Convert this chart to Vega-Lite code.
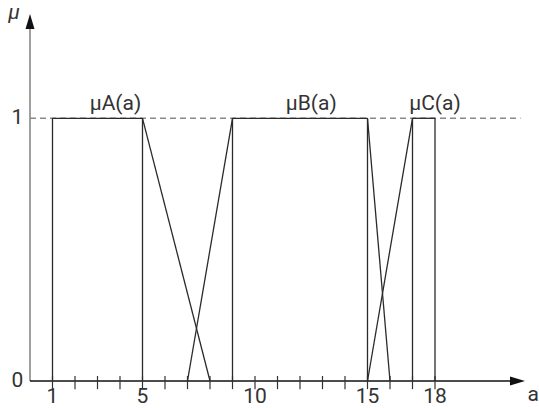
{
  "$schema": "https://vega.github.io/schema/vega-lite/v6.json",
  "width": 539,
  "height": 408,
  "autosize": "none",
  "padding": 0,
  "background": "white",
  "config": {"view": {"stroke": null}, "text": {"font": "Roboto"}},
  "datasets": {
    "segments": [
      {"curve": "A", "x": 1, "y": 0, "x2": 1, "y2": 1},
      {"curve": "A", "x": 1, "y": 1, "x2": 5, "y2": 1},
      {"curve": "A", "x": 5, "y": 1, "x2": 8, "y2": 0},
      {"curve": "A", "x": 5, "y": 0, "x2": 5, "y2": 1},
      {"curve": "B", "x": 7, "y": 0, "x2": 9, "y2": 1},
      {"curve": "B", "x": 9, "y": 1, "x2": 15, "y2": 1},
      {"curve": "B", "x": 9, "y": 0, "x2": 9, "y2": 1},
      {"curve": "B", "x": 15, "y": 0, "x2": 15, "y2": 1},
      {"curve": "B", "x": 15, "y": 1, "x2": 16, "y2": 0},
      {"curve": "C", "x": 15, "y": 0, "x2": 17, "y2": 1},
      {"curve": "C", "x": 17, "y": 1, "x2": 18, "y2": 1},
      {"curve": "C", "x": 17, "y": 0, "x2": 17, "y2": 1},
      {"curve": "C", "x": 18, "y": 0, "x2": 18, "y2": 1}
    ],
    "ticks": [
      {"x": 1}, {"x": 2}, {"x": 3}, {"x": 4}, {"x": 5}, {"x": 6}, {"x": 7}, {"x": 8}, {"x": 9},
      {"x": 10}, {"x": 11}, {"x": 12}, {"x": 13}, {"x": 14}, {"x": 15}, {"x": 16}, {"x": 17}, {"x": 18}
    ],
    "tickLabels": [
      {"x": 1, "label": "1"}, {"x": 5, "label": "5"}, {"x": 10, "label": "10"},
      {"x": 15, "label": "15"}, {"x": 18, "label": "18"}
    ],
    "yLabels": [
      {"y": 0, "label": "0"}, {"y": 1, "label": "1"}
    ],
    "curveLabels": [
      {"x": 3.8, "y": 1.03, "label": "μA(a)"},
      {"x": 12.5, "y": 1.03, "label": "μB(a)"},
      {"x": 18.0, "y": 1.03, "label": "μC(a)"}
    ]
  },
  "layer": [
    {
      "data": {"values": [{"x": 0, "x2": 21.8, "y": 1}]},
      "mark": {"type": "rule", "color": "#888888", "strokeWidth": 1.5, "strokeDash": [6, 4]},
      "encoding": {
        "x": {"field": "x", "type": "quantitative", "scale": {"domain": [-1.3333, 22.6222], "nice": false, "zero": false}, "axis": null},
        "x2": {"field": "x2"},
        "y": {"field": "y", "type": "quantitative", "scale": {"domain": [-0.1028, 1.4503], "nice": false, "zero": false}, "axis": null}
      }
    },
    {
      "data": {"values": [{"x": 0, "y": 0, "y2": 1.34}]},
      "mark": {"type": "rule", "color": "#888888", "strokeWidth": 1.6},
      "encoding": {
        "x": {"field": "x", "type": "quantitative"},
        "y": {"field": "y", "type": "quantitative"},
        "y2": {"field": "y2"}
      }
    },
    {
      "data": {"values": [{"x": 0, "x2": 21.4, "y": 0}]},
      "mark": {"type": "rule", "color": "#111111", "strokeWidth": 1.6},
      "encoding": {
        "x": {"field": "x", "type": "quantitative"},
        "x2": {"field": "x2"},
        "y": {"field": "y", "type": "quantitative"}
      }
    },
    {
      "data": {"name": "ticks"},
      "mark": {"type": "rule", "color": "#333333", "strokeWidth": 1.2},
      "encoding": {
        "x": {"field": "x", "type": "quantitative"},
        "y": {"datum": -0.031, "type": "quantitative"},
        "y2": {"datum": 0.019}
      }
    },
    {
      "data": {"name": "segments"},
      "mark": {"type": "rule", "color": "#2a2a2a", "strokeWidth": 1.3},
      "encoding": {
        "x": {"field": "x", "type": "quantitative"},
        "y": {"field": "y", "type": "quantitative"},
        "x2": {"field": "x2"},
        "y2": {"field": "y2"}
      }
    },
    {
      "data": {"values": [{"x": 21.667, "y": 0}]},
      "mark": {"type": "point", "shape": "M-1,-0.6L1,0L-1,0.6Z", "size": 225, "filled": true, "color": "#111111", "opacity": 1},
      "encoding": {
        "x": {"field": "x", "type": "quantitative"},
        "y": {"field": "y", "type": "quantitative"}
      }
    },
    {
      "data": {"values": [{"x": 0, "y": 1.368}]},
      "mark": {"type": "point", "shape": "M-0.6,1L0,-1L0.6,1Z", "size": 225, "filled": true, "color": "#111111", "opacity": 1},
      "encoding": {
        "x": {"field": "x", "type": "quantitative"},
        "y": {"field": "y", "type": "quantitative"}
      }
    },
    {
      "data": {"name": "tickLabels"},
      "mark": {"type": "text", "fontSize": 21, "color": "#333333", "align": "center", "baseline": "alphabetic"},
      "encoding": {
        "x": {"field": "x", "type": "quantitative"},
        "y": {"datum": -0.083, "type": "quantitative"},
        "text": {"field": "label"}
      }
    },
    {
      "data": {"name": "yLabels"},
      "mark": {"type": "text", "fontSize": 21, "color": "#333333", "align": "right", "baseline": "middle"},
      "encoding": {
        "x": {"datum": -0.3, "type": "quantitative"},
        "y": {"field": "y", "type": "quantitative"},
        "text": {"field": "label"}
      }
    },
    {
      "data": {"name": "curveLabels"},
      "mark": {"type": "text", "fontSize": 21, "color": "#333333", "align": "center", "baseline": "alphabetic"},
      "encoding": {
        "x": {"field": "x", "type": "quantitative"},
        "y": {"field": "y", "type": "quantitative"},
        "text": {"field": "label"}
      }
    },
    {
      "data": {"values": [{"x": 22.36, "y": -0.076, "label": "a"}]},
      "mark": {"type": "text", "fontSize": 21, "color": "#333333", "align": "center", "baseline": "alphabetic"},
      "encoding": {
        "x": {"field": "x", "type": "quantitative"},
        "y": {"field": "y", "type": "quantitative"},
        "text": {"field": "label"}
      }
    },
    {
      "data": {"values": [{"x": -0.71, "y": 1.378, "label": "μ"}]},
      "mark": {"type": "text", "fontSize": 21, "fontStyle": "italic", "color": "#333333", "align": "center", "baseline": "alphabetic"},
      "encoding": {
        "x": {"field": "x", "type": "quantitative"},
        "y": {"field": "y", "type": "quantitative"},
        "text": {"field": "label"}
      }
    }
  ]
}
